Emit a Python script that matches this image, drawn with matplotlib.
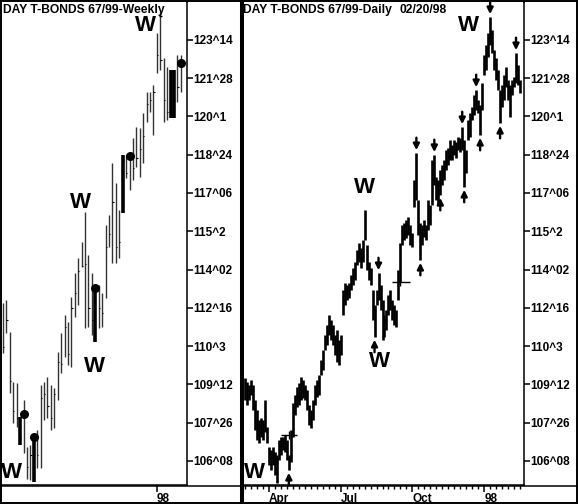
import matplotlib
matplotlib.use("Agg")
import matplotlib.pyplot as plt
from matplotlib.lines import Line2D
from matplotlib.ticker import FixedLocator, MultipleLocator

plt.rcParams["font.family"] = ["Liberation Sans", "DejaVu Sans"]
plt.rcParams["font.weight"] = "bold"

# ---- price scale (32nds) ----
price_ticks = [106.25, 107.8125, 109.375, 110.9375, 112.5, 114.0625,
               115.625, 117.1875, 118.75, 120.3125, 121.875, 123.4375]
price_labels = ["106^08", "107^26", "109^12", "110^3", "112^16", "114^02",
                "115^2", "117^06", "118^24", "120^1", "121^28", "123^14"]

# ---- weekly bars ----
weekly_high = [112.70, 112.82, 111.51, 109.47, 109.43, 108.05, 108.74, 106.82, 106.90, 107.31,
               107.52, 109.35, 109.47, 109.68, 109.35, 109.23, 110.70, 111.47, 112.21, 111.92,
               112.94, 113.92, 114.53, 115.19, 116.41, 114.66, 113.92, 113.43, 113.43, 113.11,
               115.88, 116.29, 118.41, 117.59, 116.49, 118.74, 118.74, 118.86, 119.43, 119.88,
               119.84, 120.45, 121.31, 121.31, 121.59, 123.71, 124.57, 122.69, 122.33, 122.20,
               122.20, 122.82, 122.82]
weekly_low = [110.66, 111.47, 109.03, 107.80, 107.64, 106.90, 106.58, 105.52, 105.48, 105.39,
              105.97, 105.97, 107.92, 108.01, 107.52, 107.60, 108.74, 109.84, 110.49, 110.17,
              110.09, 112.13, 112.62, 114.17, 111.68, 111.72, 111.39, 111.11, 111.68, 111.72,
              112.90, 114.98, 114.33, 114.33, 114.53, 116.37, 117.80, 117.31, 117.72, 118.25,
              117.84, 118.41, 120.08, 120.49, 119.55, 122.08, 122.20, 120.08, 120.16, 120.25,
              120.25, 120.90, 121.31]
weekly_close = [110.9, 112.0, 109.5, 108.3, 108.0, 107.2, 108.17, 106.0, 106.5, 107.23,
                106.5, 108.8, 109.0, 108.5, 108.0, 109.0, 110.3, 110.2, 111.7, 110.6,
                112.5, 113.1, 114.0, 114.2, 114.3, 112.5, 112.0, 113.31, 112.5, 112.3,
                115.0, 115.5, 116.8, 115.0, 115.2, 118.5, 118.0, 118.70, 118.2, 118.6,
                119.0, 119.5, 120.8, 121.0, 121.3, 122.8, 122.6, 121.0, 120.5, 120.4,
                121.0, 121.5, 122.49]
weekly_thick = [5, 9, 27, 35, 49, 50]
weekly_dots = [6, 9, 27, 37, 52]
weekly_xticks = [45]
weekly_xlabels = ["98"]

# ---- daily bars ----
daily_high = [109.64, 109.47, 109.35, 109.56, 109.35, 108.74, 108.33, 107.92, 108.01, 107.92,
              108.74, 107.64, 106.82, 106.70, 106.82, 106.62, 106.50, 107.11, 107.23, 107.23,
              107.31, 107.11, 106.50, 107.52, 108.62, 108.94, 109.27, 109.43, 109.68, 109.56,
              109.35, 109.15, 108.54, 108.33, 108.74, 109.35, 109.56, 109.76, 110.37, 110.78,
              111.39, 111.80, 112.21, 112.00, 111.80, 111.39, 111.60, 111.19, 111.39, 113.23,
              113.51, 113.43, 113.51, 113.84, 114.13, 114.37, 114.86, 115.15, 114.94, 115.27,
              116.49, 115.06, 114.37, 114.13, 113.23, 112.62, 113.23, 113.92, 113.43, 112.82,
              112.21, 112.41, 113.02, 113.23, 112.82, 112.62, 112.41, 114.04, 115.15, 115.88,
              115.96, 116.08, 116.21, 115.88, 115.55, 117.72, 118.82, 116.90, 115.96, 115.88,
              116.08, 115.88, 116.90, 116.70, 118.53, 118.74, 117.84, 117.72, 118.12, 118.33,
              118.53, 118.94, 119.02, 119.35, 119.14, 119.35, 119.27, 119.47, 119.43, 119.88,
              119.35, 118.94, 120.16, 120.45, 120.69, 121.20, 121.39, 120.98, 120.78, 121.67,
              122.82, 123.22, 123.71, 124.37, 123.84, 123.02, 122.69, 122.20, 121.39, 121.59,
              122.00, 122.33, 121.80, 121.59, 121.80, 121.92, 122.90, 122.41, 121.80]
daily_low = [108.74, 108.54, 108.74, 108.94, 108.33, 107.52, 107.11, 106.99, 107.23, 107.11,
             107.43, 106.99, 106.09, 105.88, 106.09, 105.68, 105.35, 106.29, 106.50, 106.70,
             106.62, 106.29, 105.88, 106.21, 107.23, 108.13, 108.45, 108.54, 108.74, 108.82,
             108.74, 108.33, 107.72, 107.60, 107.92, 108.54, 108.86, 108.94, 109.76, 109.96,
             110.78, 110.98, 111.39, 111.19, 110.98, 110.57, 110.29, 110.17, 110.57, 112.21,
             112.62, 112.82, 112.90, 113.23, 113.43, 113.63, 114.25, 114.37, 114.13, 114.37,
             115.27, 114.04, 113.63, 113.43, 112.00, 111.31, 112.62, 112.82, 112.41, 111.19,
             111.31, 111.60, 112.21, 112.41, 112.00, 111.80, 111.72, 112.82, 113.55, 115.06,
             115.27, 115.35, 115.47, 115.06, 114.98, 116.61, 116.90, 115.47, 114.45, 115.06,
             115.39, 115.27, 115.68, 115.88, 116.70, 117.51, 116.90, 116.70, 117.10, 117.51,
             117.72, 118.12, 118.33, 118.53, 118.53, 118.74, 118.61, 118.94, 118.86, 118.94,
             117.43, 118.00, 119.35, 119.47, 120.16, 120.37, 120.57, 120.45, 119.55, 120.57,
             122.00, 122.20, 122.73, 123.22, 122.90, 122.20, 121.80, 121.39, 120.04, 120.69,
             120.98, 121.51, 120.98, 120.29, 121.20, 121.51, 121.67, 121.59, 121.27]
daily_down_arrows = [67, 86, 95, 109, 116, 123, 136]
daily_up_arrows = [22, 65, 88, 98, 110, 118, 128]
daily_xticks = [12, 48, 84, 120]
daily_xlabels = ["Apr", "Jul", "Oct", "98"]

W, H = 578, 504
fig = plt.figure(figsize=(W / 100, H / 100), dpi=100)


def px_axes(x0, x1, y0, y1):
    return fig.add_axes([x0 / W, 1 - y1 / H, (x1 - x0) / W, (y1 - y0) / H])


def fig_line(x0, y0, x1, y1, lw):
    fig.add_artist(Line2D([x0 / W, x1 / W], [1 - y0 / H, 1 - y1 / H],
                          transform=fig.transFigure, color="black", lw=lw,
                          solid_capstyle="butt"))


def style_axis(ax, xticks, xlabels):
    ax.set_ylim(105.27, 124.98)
    ax.set_facecolor("white")
    for s in ["left", "top"]:
        ax.spines[s].set_visible(False)
    for s in ["right", "bottom"]:
        ax.spines[s].set_linewidth(1.1)
    ax.yaxis.tick_right()
    ax.yaxis.set_major_locator(FixedLocator(price_ticks))
    ax.set_yticklabels(price_labels)
    ax.tick_params(axis="y", direction="out", length=4, width=1.1, pad=0.5,
                   labelsize=8.5)
    ax.set_xticks(xticks)
    ax.set_xticklabels(xlabels, ha="left")
    ax.tick_params(axis="x", direction="out", length=5, width=1.1, pad=1,
                   labelsize=8.5)


# ---- weekly panel ----
ax_w = px_axes(1, 187, 2, 485)
ax_w.set_xlim(-0.58, 53.8)
xs_w = list(range(len(weekly_high)))
thin = [i for i in xs_w if i not in weekly_thick]
ax_w.vlines(thin, [weekly_low[i] for i in thin], [weekly_high[i] for i in thin],
            color="#333333", lw=1.0)
ax_w.vlines(weekly_thick, [weekly_low[i] for i in weekly_thick],
            [weekly_high[i] for i in weekly_thick], color="black", lw=2.6)
ax_w.hlines(weekly_close, xs_w, [x + 0.35 for x in xs_w], color="black", lw=0.8)
ax_w.plot(weekly_dots, [weekly_close[i] for i in weekly_dots], "o", color="black", ms=5.5)
ax_w.hlines(weekly_high[46] - 0.15, 45.5, 46.6, color="black", lw=1.0)
style_axis(ax_w, weekly_xticks, weekly_xlabels)

for x, y in [(2.6, 105.76), (22.7, 116.78), (26.7, 110.12), (41.6, 124.04)]:
    ax_w.text(x, y, "W", fontsize=16, weight="bold", ha="center", va="center")

# ---- daily panel ----
ax_d = px_axes(244, 524, 2, 485)
ax_d.set_xlim(-0.5, 140)
xs_d = list(range(len(daily_high)))
ax_d.vlines(xs_d, daily_low, daily_high, color="black", lw=1.9)
ax_d.hlines([107.31, 113.55], [18, 74], [26, 83], color="black", lw=1.0)
ax_d.vlines([22, 78], [107.15, 113.39], [107.47, 113.71], color="black", lw=1.0)
style_axis(ax_d, daily_xticks, daily_xlabels)
ax_d.xaxis.set_minor_locator(MultipleLocator(3))
ax_d.tick_params(axis="x", which="minor", direction="out", length=3, width=1.0)

for i in daily_down_arrows:
    ax_d.annotate("", xy=(i, daily_high[i]), xytext=(0, 11), textcoords="offset points",
                  arrowprops=dict(arrowstyle="-|>", color="black", lw=1.7,
                                  shrinkA=0, shrinkB=2, mutation_scale=9))
for i in daily_up_arrows:
    ax_d.annotate("", xy=(i, daily_low[i]), xytext=(0, -11), textcoords="offset points",
                  arrowprops=dict(arrowstyle="-|>", color="black", lw=1.7,
                                  shrinkA=0, shrinkB=2, mutation_scale=9))

for x, y in [(5, 105.8), (60, 117.39), (67.5, 110.33), (112, 124.04)]:
    ax_d.text(x, y, "W", fontsize=16, weight="bold", ha="center", va="center")

# ---- titles ----
fig.text(3 / W, 1 - 4 / H, "DAY T-BONDS 67/99-Weekly", fontsize=8.7, weight="bold", va="top")
fig.text(243 / W, 1 - 4 / H, "DAY T-BONDS 67/99-Daily", fontsize=8.7, weight="bold", va="top")
fig.text(400 / W, 1 - 4 / H, "02/20/98", fontsize=8.7, weight="bold", va="top")

# ---- panel frames ----
fig_line(0, 0.7, W, 0.7, 1.4)
fig_line(0.7, 0, 0.7, H, 1.4)
fig_line(W - 0.7, 0, W - 0.7, H, 1.4)
fig_line(0, H - 0.7, W, H - 0.7, 1.4)
fig_line(242, 0, 242, H, 2.9)
fig_line(0, 485.5, 240, 485.5, 1.1)
fig_line(244, 485.5, W, 485.5, 1.1)
fig_line(187, 0, 187, 3, 1.1)
fig_line(524, 0, 524, 3, 1.1)

fig.savefig("out.png", dpi=100, facecolor="white")
